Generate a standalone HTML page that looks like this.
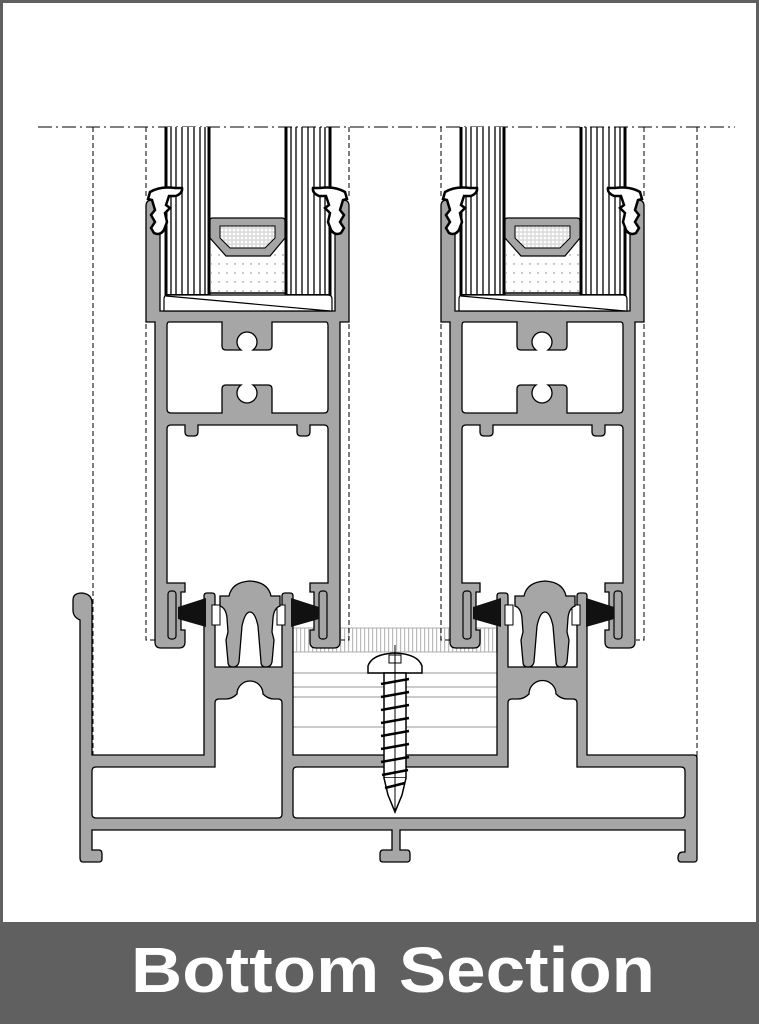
<!DOCTYPE html>
<html><head><meta charset="utf-8"><style>
html,body{margin:0;padding:0;background:#fff}
svg{display:block}
</style></head><body>
<svg width="759" height="1024" viewBox="0 0 759 1024" xmlns="http://www.w3.org/2000/svg">
<defs>
<pattern id="dots" width="8" height="9" patternUnits="userSpaceOnUse"><circle cx="3" cy="3" r="0.7" fill="#777"/></pattern>
<pattern id="mesh" width="4" height="4" patternUnits="userSpaceOnUse"><rect width="4" height="4" fill="#ddd"/><circle cx="2" cy="2" r="1.3" fill="#fff"/></pattern>
<pattern id="vh" width="4" height="10" patternUnits="userSpaceOnUse"><rect width="4" height="10" fill="#fff"/><rect x="0" width="1.2" height="10" fill="#bbb"/></pattern>
<g id="sash">
  <g stroke="#000" fill="none">
    <rect x="166" y="127" width="43" height="169" fill="#fff" stroke="none"/>
    <line x1="166" y1="127" x2="166" y2="296" stroke-width="3"/>
    <line x1="209" y1="127" x2="209" y2="296" stroke-width="3"/>
    <line x1="171" y1="127" x2="171" y2="296" stroke-width="1.3"/>
    <line x1="176" y1="127" x2="176" y2="296" stroke-width="1.3"/>
    <line x1="182" y1="127" x2="182" y2="296" stroke-width="1.3"/>
    <line x1="188" y1="127" x2="188" y2="296" stroke-width="1.3"/>
    <line x1="194" y1="127" x2="194" y2="296" stroke-width="1.3"/>
    <line x1="200" y1="127" x2="200" y2="296" stroke-width="1.3"/>
    <line x1="205" y1="127" x2="205" y2="296" stroke-width="1.3"/>
    <line x1="286" y1="127" x2="286" y2="296" stroke-width="3"/>
    <line x1="330" y1="127" x2="330" y2="296" stroke-width="3"/>
    <line x1="291" y1="127" x2="291" y2="296" stroke-width="1.3"/>
    <line x1="296" y1="127" x2="296" y2="296" stroke-width="1.3"/>
    <line x1="302" y1="127" x2="302" y2="296" stroke-width="1.3"/>
    <line x1="308" y1="127" x2="308" y2="296" stroke-width="1.3"/>
    <line x1="314" y1="127" x2="314" y2="296" stroke-width="1.3"/>
    <line x1="320" y1="127" x2="320" y2="296" stroke-width="1.3"/>
    <line x1="325" y1="127" x2="325" y2="296" stroke-width="1.3"/>
    <line x1="166" y1="295" x2="209" y2="295" stroke-width="2"/>
    <line x1="286" y1="295" x2="330" y2="295" stroke-width="2"/>
  </g>
  <rect x="211" y="250" width="74" height="43" fill="url(#dots)"/>
  <line x1="209" y1="293" x2="286" y2="293" stroke="#000" stroke-width="1.5"/>
  <path d="M210,220 Q210,218 213,218 L282,218 Q285,218 285,221 L285,238 L270,256 L226,256 L210,238 Z" fill="#a6a6a6" stroke="#000" stroke-width="1.2"/>
  <path d="M220,226 L275,226 L275,238 L265,248 L230,248 L220,238 Z" fill="url(#mesh)" stroke="#000" stroke-width="1"/>
  <path fill-rule="evenodd" fill="#a6a6a6" stroke="#000" stroke-width="1.3" d="
   M146,322 L146,206 Q146,200 152,200 L160,200 L160,311 L335,311 L335,200 L343,200 Q349,200 349,206 L349,322 L340,322
   L340,642 Q340,648 334,648 L316,648 Q310,648 310,642 L310,630 L314,630 L314,592 L310,592 L310,583 L328,583
   L328,429 Q328,425 324,425 L310,425 L310,432 Q310,436 306,436 L301,436 Q297,436 297,432 L297,425 L198,425 L198,432 Q198,436 194,436 L189,436 Q185,436 185,432 L185,425 L171,425 Q167,425 167,429
   L167,583 L185,583 L185,592 L181,592 L181,630 L185,630 L185,642 Q185,648 179,648 L161,648 Q155,648 155,642 L155,322 Z
   M169,322 L222,322 L222,346 Q222,350 226,350 L241,350 A10,10 0 1 1 253,350 L268,350 Q272,350 272,346 L272,322 L326,322 Q328,322 328,326 L328,409 Q328,413 324,413 L272,413 L272,389 Q272,385 268,385 L253,385 A10,10 0 1 1 241,385 L226,385 Q222,385 222,389 L222,413 L171,413 Q167,413 167,409 L167,326 Q167,322 169,322 Z"/>
  <path d="M164,299 Q164,295 168,295 L328,295 Q332,295 332,299 L332,311 L164,311 Z" fill="#fff" stroke="#000" stroke-width="1.2"/>
  <line x1="166" y1="296" x2="330" y2="311" stroke="#000" stroke-width="1.2"/>
  <rect x="168" y="591" width="8" height="48" rx="3" fill="#a6a6a6" stroke="#000" stroke-width="1.2"/>
  <rect x="319" y="591" width="8" height="48" rx="3" fill="#a6a6a6" stroke="#000" stroke-width="1.2"/>
  <path d="M150,192 Q160,186 175,188 L182,188 Q183,193 176,196 L169,196 L166,205 L170,208 L165,213 L167,222 L164,230 Q160,236 154,233 L151,228 L155,222 L151,215 L155,210 L152,200 L148,199 Z" fill="#fff" stroke="#000" stroke-width="2.5"/>
  <path d="M345,192 Q335,186 320,188 L313,188 Q312,193 319,196 L326,196 L329,205 L325,208 L330,213 L328,222 L331,230 Q335,236 341,233 L344,228 L340,222 L344,215 L340,210 L343,200 L347,199 Z" fill="#fff" stroke="#000" stroke-width="2.5"/>
  <path d="M178,607 L206,598 L206,627 L178,619 Z" fill="#111"/>
  <path d="M319,607 L291,598 L291,627 L319,619 Z" fill="#111"/>
  <path d="M220,596 L229,596 Q232,582 250,581 Q268,582 271,596 L280,596 L280,606 Q274,608 273,618 L272,632 L274,640 L272,662 Q271,667 266,667 Q261,667 261,662 L258,626 Q255,612 250,612 Q245,612 242,626 L239,662 Q238,667 233,667 Q228,667 228,662 L226,640 L228,632 L227,618 Q226,608 220,606 Z" fill="#a6a6a6" stroke="#000" stroke-width="1.3"/>
  <g stroke="#000" stroke-width="1" stroke-dasharray="5,3" fill="none">
    <line x1="146" y1="127" x2="146" y2="198"/>
    <line x1="349" y1="127" x2="349" y2="198"/>
    <path d="M146,324 L146,640 L156,640"/>
    <path d="M349,324 L349,640 L341,640"/>
  </g>
</g>
</defs>
<rect x="1.5" y="1.5" width="756" height="1021" fill="#fff" stroke="#5f5f5f" stroke-width="3"/>
<rect x="0" y="922" width="759" height="102" fill="#606060"/>
<text x="393" y="992" text-anchor="middle" font-family="Liberation Sans, sans-serif" font-weight="bold" font-size="64" fill="#fff" textLength="524" lengthAdjust="spacingAndGlyphs">Bottom Section</text>

<line x1="38" y1="127" x2="735" y2="127" stroke="#000" stroke-width="1" stroke-dasharray="14,4,2,4"/>
<g stroke="#000" stroke-width="1" stroke-dasharray="5,3" fill="none">
  <line x1="93" y1="127" x2="93" y2="755"/>
  <line x1="697" y1="127" x2="697" y2="862"/>
</g>

<rect x="293" y="628" width="205" height="24" fill="url(#vh)" stroke="#aaa"/>
<rect x="293" y="652" width="205" height="103" fill="#fff" stroke="#aaa"/>
<g stroke="#aaa" stroke-width="1.3">
  <line x1="293" y1="673" x2="498" y2="673"/>
  <line x1="293" y1="687" x2="498" y2="687"/>
  <line x1="293" y1="697" x2="498" y2="697"/>
  <line x1="293" y1="727" x2="498" y2="727"/>
</g>

<path fill="#a6a6a6" stroke="#000" stroke-width="1.3" d="
 M80,858 L80,620 Q73,617 73,610 L73,600 Q73,593 82,593 Q92,594 92,603 L92,755 L204,755 L204,596 Q204,593 207,593 L212,593 Q215,593 215,596 L215,667 L282,667 L282,596 Q282,593 285,593 L290,593 Q293,593 293,596 L293,755
 L497,755 L497,596 Q497,593 500,593 L505,593 Q508,593 508,596 L508,667 L577,667 L577,596 Q577,593 580,593 L584,593 Q587,593 587,596 L587,755 L694,755 Q697,755 697,758 L697,859 Q697,862 694,862 L681,862 Q678,862 678,858 Q678,852 683,852 L685,852 L685,830
 L400,830 L400,850 L407,850 Q410,850 410,854 L410,859 Q410,862 407,862 L383,862 Q380,862 380,859 L380,854 Q380,850 383,850 L392,850 L392,830 L92,830 L92,850 L99,850 Q102,850 102,854 L102,859 Q102,862 99,862 L83,862 Q80,862 80,858 Z"/>
<path fill="#fff" stroke="#000" stroke-width="1.3" d="M96,767 L215,767 L215,703 Q215,699 219,699 L226,699 Q232,699 237,694 A10,10 0 1 1 263,694 Q268,699 274,699 L278,699 Q282,699 282,703 L282,814 Q282,818 278,818 L96,818 Q92,818 92,814 L92,771 Q92,767 96,767 Z"/>
<path fill="#fff" stroke="#000" stroke-width="1.3" d="M297,767 L508,767 L508,703 Q508,699 512,699 L518,699 Q524,699 529,694 A10,10 0 1 1 556,694 Q561,699 567,699 L573,699 Q577,699 577,703 L577,767 L681,767 Q685,767 685,771 L685,814 Q685,818 681,818 L297,818 Q293,818 293,814 L293,771 Q293,767 297,767 Z"/>
<rect x="212" y="605" width="8" height="20" fill="#fff" stroke="#000" stroke-width="1"/>
<rect x="277" y="605" width="8" height="20" fill="#fff" stroke="#000" stroke-width="1"/>
<rect x="505" y="605" width="8" height="20" fill="#fff" stroke="#000" stroke-width="1"/>
<rect x="572" y="605" width="8" height="20" fill="#fff" stroke="#000" stroke-width="1"/>

<use href="#sash"/>
<use href="#sash" transform="translate(295,0)"/>

<g stroke="#000" stroke-width="1.5" fill="#fff">
  <path d="M368,673 L368,666 Q372,654 395,653 Q418,654 422,666 L422,673 Z"/>
  <rect x="389" y="655" width="12" height="8" fill="#fff" stroke-width="1"/>
  <rect x="384" y="673" width="22" height="105" stroke-width="1.5"/>
  <path d="M384,778 L388,795 L395,812 L402,795 L406,778"/>
</g>
<g stroke="#000" stroke-width="2.5">
  <line x1="381" y1="684" x2="409" y2="679"/>
  <line x1="381" y1="697" x2="409" y2="692"/>
  <line x1="381" y1="710" x2="409" y2="705"/>
  <line x1="381" y1="723" x2="409" y2="718"/>
  <line x1="381" y1="736" x2="409" y2="731"/>
  <line x1="381" y1="749" x2="409" y2="744"/>
  <line x1="381" y1="762" x2="409" y2="757"/>
  <line x1="382" y1="775" x2="408" y2="770"/>
  <line x1="385" y1="788" x2="405" y2="783"/>
</g>
<line x1="395" y1="645" x2="395" y2="812" stroke="#000" stroke-width="1"/>
</svg>
</body></html>
